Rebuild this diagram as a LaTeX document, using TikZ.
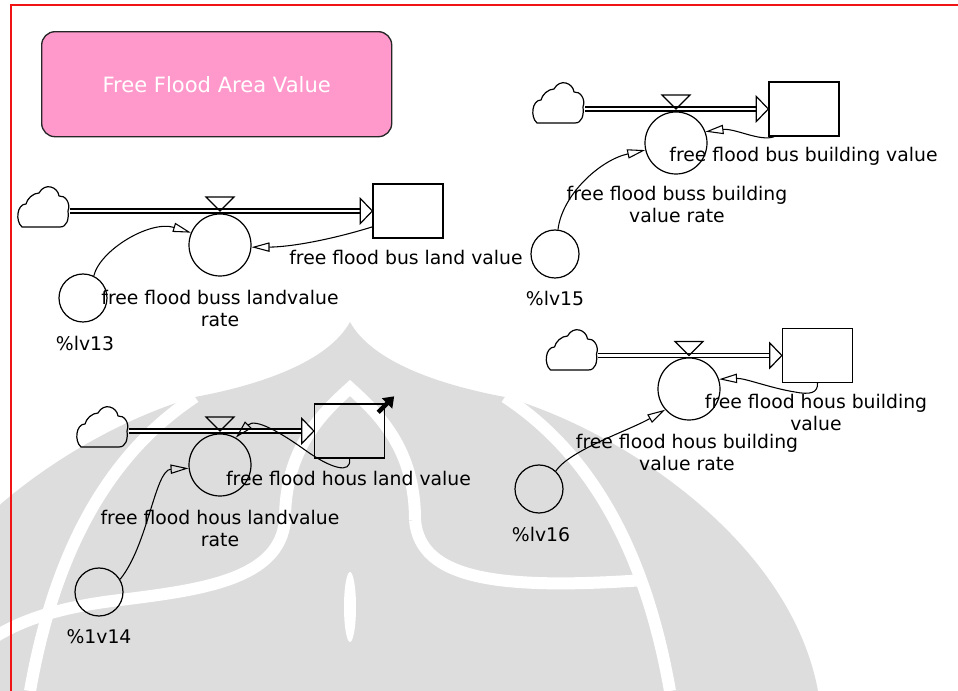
\documentclass[tikz,border=0pt]{standalone}
\usepackage{fontspec}
\setmainfont{DejaVu Sans}
\usetikzlibrary{arrows.meta,calc}
\definecolor{titlepink}{RGB}{255,153,204}
\definecolor{framered}{RGB}{240,20,20}
\definecolor{markgray}{RGB}{221,221,221}
\begin{document}
\begin{tikzpicture}[x=0.75pt,y=-0.75pt,
  lbl/.style={font=\fontsize{14.1}{16}\selectfont, text=black, inner sep=0pt, align=center},
  titlebox/.style={draw=black!85, line width=1pt, fill=titlepink, rounded corners=10pt,
    minimum width=262.5pt, minimum height=78.75pt, text=white,
    font=\fontsize{15.8}{18}\selectfont},
  ratebox/.style={circle, draw, line width=0.9pt, minimum size=46.5pt, inner sep=0pt},
  auxbox/.style={circle, draw, line width=0.9pt, minimum size=36pt, inner sep=0pt},
  stockbox/.style={draw, line width=1pt, minimum width=52.5pt, minimum height=40.5pt, inner sep=0pt},
  cloudnode/.style={minimum width=39.75pt, minimum height=31.5pt, inner sep=0pt},
  cloudline/.style={draw, line width=0.9pt, line join=round},
  pipe/.style={draw, line width=0.8pt, double=white, double distance=2.2pt},
  pipehead/.style={draw, fill=white, line width=0.9pt, line join=miter},
  valvetri/.style={draw, line width=0.9pt},
  link/.style={draw, line width=0.8pt, -{Triangle[open, length=13.5pt, width=7pt]}},
  bold/.style={draw, line width=3.4pt, -{Triangle[length=7.5pt, width=10.5pt]}},
  gap/.style={draw=white, line width=9pt},
  cloudpic/.pic={
    \draw[cloudline] (-21,20) -- (17,20)
      .. controls (24,20) and (26,12) .. (25,4)
      .. controls (28,-4) and (22,-12) .. (16,-11)
      .. controls (15,-20) and (2,-25) .. (-4,-14)
      .. controls (-10,-14) and (-16,-8) .. (-17,-3)
      .. controls (-26,-3) and (-28,14) .. (-21,20) -- cycle;
  }
]
\useasboundingbox (0,0) rectangle (958,691);
\fill[white] (0,0) rectangle (958,691);

% faint emblem behind the model
\fill[markgray] (350,322) .. controls (372,362) and (440,385) .. (505,397)
  .. controls (620,430) and (790,540) .. (818,691) -- (-118,691)
  .. controls (-90,540) and (80,430) .. (195,397)
  .. controls (260,385) and (328,362) .. (350,322) -- cycle;
\draw[gap] (505,397) .. controls (570,440) and (640,520) .. (670,691);
\draw[gap] (195,397) .. controls (130,440) and (60,520) .. (30,691);
\draw[gap] (415,520) .. controls (415,450) and (380,415) .. (350,388)
  .. controls (320,415) and (285,450) .. (285,520);
\draw[gap] (415,520) .. controls (420,580) and (500,590) .. (645,580);
\draw[gap] (285,520) .. controls (280,580) and (200,590) .. (120,600)
  .. controls (60,607) and (20,620) .. (-10,640);
\fill[white] (350,607) ellipse [x radius=6, y radius=35];

% page frame
\draw[framered, line width=1.5pt] (958,5) -- (11,5) -- (11,691);

% title
\node[titlebox] (title) at (216.7,84.2) {Free Flood Area Value};

% ---------- bus land value ----------
\node[cloudnode] (cloud1) at (43,207) {};
\pic at (cloud1) {cloudpic};
\node[stockbox] (stock1) at (408,211) {};
\node[ratebox] (rate1) at (220,245) {};
\node[auxbox] (aux1) at (83,298) {};
\draw[pipe] (cloud1.east |- stock1.west) -- ($(stock1.west)+(-12,0)$);
\draw[pipehead] ($(stock1.west)+(-12,-12.5)$) -- (stock1.west) -- ($(stock1.west)+(-12,12.5)$) -- cycle;
\coordinate (v1) at (rate1.north |- stock1.west);
\draw[valvetri] ($(v1)+(-14,-14)$) -- ($(v1)+(14,-14)$) -- (v1) -- cycle;
\node[lbl] (l-stock1) at (406,257) {free flood bus land value};
\node[lbl] (l-rate1) at (220,308.4) {free flood buss landvalue\\rate};
\node[lbl] (l-aux1) at (85,343) {\%lv13};
\draw[link] (aux1.64) .. controls (100,250) and (150,220) .. (rate1.157);
\draw[link] (stock1.204) .. controls (330,240) and (290,247) .. (rate1.-4);

% ---------- bus building value ----------
\node[cloudnode] (cloud2) at (558,103) {};
\pic at (cloud2) {cloudpic};
\node[stockbox] (stock2) at (804,109) {};
\node[ratebox] (rate2) at (676,143) {};
\node[auxbox] (aux2) at (555,254) {};
\draw[pipe] (cloud2.east |- stock2.west) -- ($(stock2.west)+(-12,0)$);
\draw[pipehead] ($(stock2.west)+(-12,-12.5)$) -- (stock2.west) -- ($(stock2.west)+(-12,12.5)$) -- cycle;
\coordinate (v2) at (rate2.north |- stock2.west);
\draw[valvetri] ($(v2)+(-14,-14)$) -- ($(v2)+(14,-14)$) -- (v2) -- cycle;
\node[lbl] (l-stock2) at (803.5,156) {free flood bus building value};
\node[lbl] (l-rate2) at (677,204.5) {free flood buss building\\value rate};
\node[lbl] (l-aux2) at (555,298) {\%lv15};
\draw[link] (aux2.83) .. controls (562,195) and (600,160) .. (rate2.193);
\draw[link] (stock2.223) .. controls (760,142) and (735,128) .. (rate2.21);

% ---------- hous land value ----------
\node[cloudnode] (cloud3) at (102,427) {};
\pic at (cloud3) {cloudpic};
\node[stockbox] (stock3) at (349.5,431) {};
\node[ratebox] (rate3) at (220,465) {};
\node[auxbox] (aux3) at (99,592) {};
\draw[pipe] (cloud3.east |- stock3.west) -- ($(stock3.west)+(-12,0)$);
\draw[pipehead] ($(stock3.west)+(-12,-12.5)$) -- (stock3.west) -- ($(stock3.west)+(-12,12.5)$) -- cycle;
\coordinate (v3) at (rate3.north |- stock3.west);
\draw[valvetri] ($(v3)+(-14,-14)$) -- ($(v3)+(14,-14)$) -- (v3) -- cycle;
\coordinate (ind3a) at ($(stock3.north east)+(-7,9)$);
\coordinate (ind3b) at ($(stock3.north east)+(9,-7)$);
\draw[bold] (ind3a) -- (ind3b);
\node[lbl] (l-stock3) at (348.5,478) {free flood hous land value};
\node[lbl] (l-rate3) at (220,528.5) {free flood hous landvalue\\rate};
\node[lbl] (l-aux3) at (99,637) {\%1v14};
\draw[link] (aux3.31) .. controls (148,545) and (155,470) .. (rate3.186);
\draw[link] (stock3.south) .. controls (352,475) and (330,468) .. (305,450)
  .. controls (280,432) and (255,418) .. (rate3.60);

% ---------- hous building value ----------
\node[cloudnode] (cloud4) at (571.5,350) {};
\pic at (cloud4) {cloudpic};
\node[stockbox] (stock4) at (817.5,355.5) {};
\node[ratebox] (rate4) at (689,389) {};
\node[auxbox] (aux4) at (539,489) {};
\draw[pipe] (cloud4.east |- stock4.west) -- ($(stock4.west)+(-12,0)$);
\draw[pipehead] ($(stock4.west)+(-12,-12.5)$) -- (stock4.west) -- ($(stock4.west)+(-12,12.5)$) -- cycle;
\coordinate (v4) at (rate4.north |- stock4.west);
\draw[valvetri] ($(v4)+(-14,-14)$) -- ($(v4)+(14,-14)$) -- (v4) -- cycle;
\node[lbl] (l-stock4) at (816,412.5) {free flood hous building\\value};
\node[lbl] (l-rate4) at (687,452.5) {free flood hous building\\value rate};
\node[lbl] (l-aux4) at (541,534) {\%lv16};
\draw[link] (aux4.47) .. controls (570,450) and (630,430) .. (rate4.221);
\draw[link] (stock4.south) .. controls (818,393) and (810,395) .. (795,392)
  .. controls (770,388) and (745,378) .. (rate4.18);
\end{tikzpicture}
\end{document}
